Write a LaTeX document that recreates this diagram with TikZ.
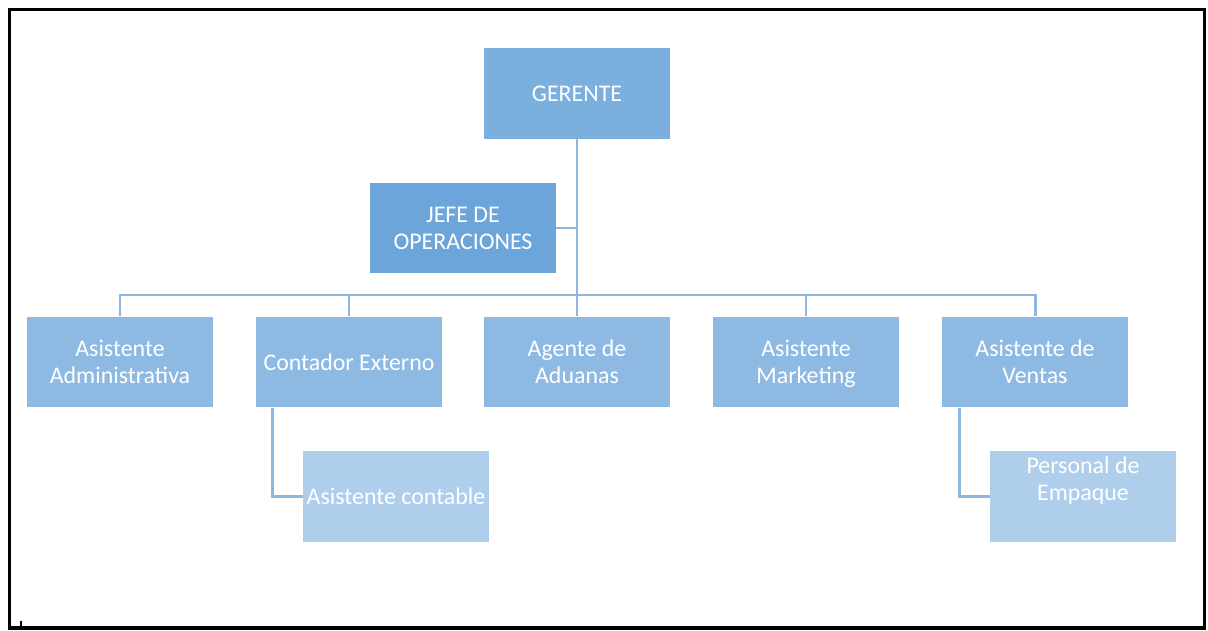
\documentclass[tikz,border=0pt]{standalone}
\usepackage{fontspec}
\setmainfont{Carlito}
\usepackage{tikz}
\definecolor{topblue}{HTML}{7BAFDE}
\definecolor{jefeblue}{HTML}{6BA5DA}
\definecolor{midblue}{HTML}{8DB9E2}
\definecolor{lowblue}{HTML}{AFCEEB}
\definecolor{lineblue}{HTML}{8EB6E1}

\begin{document}
\begin{tikzpicture}[x=0.02cm, y=-0.02cm, %
      box/.style={minimum width=3.72cm, minimum height=1.82cm, inner sep=1pt, align=center, text=white, font=\fontsize{13.6}{15.5}\selectfont, text depth=0pt}, %
      gr/.style={fill=topblue}, %
      jf/.style={fill=jefeblue}, %
      md/.style={fill=midblue}, %
      lw/.style={fill=lowblue}, %
      ln/.style={lineblue, line width=1.7pt}, %
      ]

    \useasboundingbox (0,0) rectangle (1208,631);
    \draw[line width=2pt] (9.5,9.5) rectangle (1204.5,628);
    \draw[line width=0.6pt] (21,621) -- (21,628);

    \node[box, gr] (ger) at (577,93.5) {GERENTE};
    \node[box, jf] (jefe) at (463,228) {JEFE DE\\OPERACIONES};
    \coordinate (bus) at (577,295);

    \foreach \a/\txt/\x in { %
      adm/{Asistente\\Administrativa}/120,%
      con/{Contador Externo}/349,%
      adu/{Agente de\\Aduanas}/577,%
      mkt/{Asistente\\Marketing}/806,%
      ven/{Asistente de\\Ventas}/1035%
    }{ %
      \node[box, md] (\a) at (\x,362) {\txt};
      \draw[ln] (bus) -| (\a.north);
      }

    \node[box, lw] (acon) at (396,496.5) {Asistente contable};
    \node[box, lw] (emp) at (1083,496.5) {};
    \node[box, minimum width=0pt, minimum height=0pt] (emptxt) at (1083,478.5) {Personal de\\Empaque};

    \draw[ln] (ger) -- (bus);
    \draw[ln] (jefe.east) -- (jefe -| ger);
    \draw[ln] (con.south west) ++(17,0) |- (acon.west);
    \draw[ln] (ven.south west) ++(18,0) |- (emp.west);
    \end{tikzpicture}
\end{document}
